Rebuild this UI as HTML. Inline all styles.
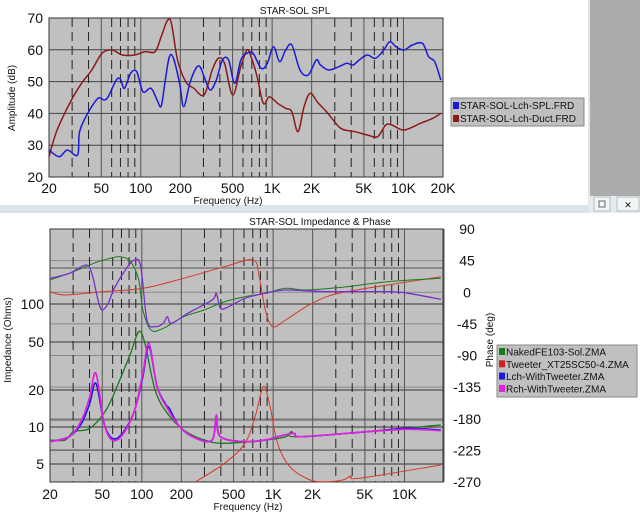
<!DOCTYPE html>
<html><head><meta charset="utf-8"><style>
html,body{margin:0;padding:0;width:640px;height:516px;overflow:hidden;background:#fff}
svg{display:block}
text{font-family:"Liberation Sans",sans-serif;fill:#111}
</style></head><body>
<svg id="s" width="640" height="516" xmlns="http://www.w3.org/2000/svg">
<rect x="0" y="0" width="640" height="516" fill="#fff"/>
<rect x="589" y="0" width="51" height="213" fill="#ababab"/>
<rect x="588" y="0" width="2" height="213" fill="#e4e8ec"/>
<rect x="0" y="205" width="640" height="8" fill="#dde3ea"/>
<rect x="589" y="196" width="51" height="17" fill="#e6ebf0"/>
<rect x="594" y="197" width="16" height="14" fill="#f2f4f6" stroke="#9aa" stroke-width="0.7"/>
<rect x="599" y="201" width="6" height="6" fill="none" stroke="#667" stroke-width="1"/>
<rect x="617" y="197" width="22" height="14" fill="#f2f4f6" stroke="#9aa" stroke-width="0.7"/>
<text x="628" y="208" font-size="9" text-anchor="middle" fill="#889">✕</text>
<g id="g"></g>
</svg>
<script>
var NS="http://www.w3.org/2000/svg",G=document.getElementById('g');
function el(t,a,txt){var e=document.createElementNS(NS,t);for(var k in a)e.setAttribute(k,a[k]);if(txt!=null)e.textContent=txt;G.appendChild(e);return e;}
function fx(x0,x1,f){return x0+(x1-x0)*Math.log10(f/20)/3;}
function vgrid(x0,x1,y0,y1){
 var fs=[20,30,40,50,60,70,80,90,100,200,300,400,500,600,700,800,900,1000,2000,3000,4000,5000,6000,7000,8000,9000,10000,20000];
 fs.forEach(function(f){var x=fx(x0,x1,f);var solid=[20,50,100,200,500,1000,2000,5000,10000,20000].indexOf(f)>=0;
  el('line',{x1:x,x2:x,y1:y0,y2:y1,stroke:solid?'#555':'#222','stroke-width':1,'stroke-dasharray':solid?'':'9,5'});});
}
function poly(pts,sx,sy,oy,col,w){
 var P=pts.map(function(p){return [p[0]*sx,oy+p[1]*sy];});
 var d='M'+P[0][0].toFixed(1)+' '+P[0][1].toFixed(1);
 for(var i=0;i<P.length-1;i++){var p0=P[i-1]||P[i],p1=P[i],p2=P[i+1],p3=P[i+2]||p2;
  var c1=[p1[0]+(p2[0]-p0[0])/6,p1[1]+(p2[1]-p0[1])/6],c2=[p2[0]-(p3[0]-p1[0])/6,p2[1]-(p3[1]-p1[1])/6];
  d+=' C'+c1[0].toFixed(1)+' '+c1[1].toFixed(1)+' '+c2[0].toFixed(1)+' '+c2[1].toFixed(1)+' '+p2[0].toFixed(1)+' '+p2[1].toFixed(1);}
 el('path',{d:d,fill:'none',stroke:col,'stroke-width':w||1.3,'stroke-linejoin':'round'});}
var SX=1/2.45,SY=1/3;
var tx0=49,tx1=443,ty0=18,ty1=177;
el('rect',{x:tx0,y:ty0,width:tx1-tx0,height:ty1-ty0,fill:'#c0c0c0'});
for(var v=20;v<=70;v+=10){var y=ty1-(v-20)/50*(ty1-ty0);el('line',{x1:tx0,x2:tx1,y1:y,y2:y,stroke:'#444','stroke-width':1});
 el('text',{x:43,y:y+5,'font-size':14,'text-anchor':'end'},String(v));}
vgrid(tx0,tx1,ty0,ty1);
el('rect',{x:tx0,y:ty0,width:tx1-tx0,height:ty1-ty0,fill:'none',stroke:'#333'});
[[20,'20'],[50,'50'],[100,'100'],[200,'200'],[500,'500'],[1000,'1K'],[2000,'2K'],[5000,'5K'],[10000,'10K'],[20000,'20K']].forEach(function(a){
 el('text',{x:fx(tx0,tx1,a[0]),y:193,'font-size':14,'text-anchor':'middle'},a[1]);});
el('text',{x:228,y:204,'font-size':10,'text-anchor':'middle'},'Frequency (Hz)');
el('text',{x:295,y:14,'font-size':10,'text-anchor':'middle'},'STAR-SOL SPL');
el('text',{x:0,y:0,'font-size':10,'text-anchor':'middle',transform:'translate(15,98) rotate(-90)'},'Amplitude (dB)');
var blueT=[[120,450],[145,470],[165,450],[190,465],[195,395],[215,340],[240,295],[255,300],[265,290],[285,240],[295,238],[305,265],[320,220],[335,215],[350,275],[370,265],[385,300],[395,318],[405,240],[415,170],[425,175],[440,250],[450,320],[465,250],[480,205],[490,200],[500,230],[515,270],[530,240],[545,180],[560,180],[575,250],[590,180],[605,160],[620,160],[640,205],[655,190],[670,140],[685,185],[700,150],[715,135],[735,210],[755,225],[775,180],[785,195],[805,210],[830,200],[850,190],[865,195],[880,180],[900,165],[920,175],[940,150],[955,125],[970,140],[990,150],[1010,135],[1035,130],[1050,170],[1065,185],[1080,240]];
var redT=[[120,470],[140,390],[175,300],[200,250],[225,210],[250,160],[275,150],[300,165],[330,165],[355,155],[380,155],[395,110],[410,62],[420,70],[435,180],[455,245],[475,265],[500,285],[520,210],[535,175],[550,190],[570,285],[590,200],[605,150],[615,170],[630,230],[645,310],[660,290],[680,310],[700,325],[715,335],[730,395],[745,320],[760,280],[780,310],[800,335],[830,380],[845,390],[870,395],[900,405],[925,410],[945,375],[960,375],[990,390],[1030,370],[1060,355],[1080,340]];
poly(redT,SX,SY,0,'#8b1a1a',1.5);
poly(blueT,SX,SY,0,'#1a1ad8',1.5);
el('rect',{x:451,y:98,width:133,height:28,fill:'#c0c0c0',stroke:'#888'});
el('rect',{x:453,y:102,width:6,height:7,fill:'#1a1ad8'});
el('text',{x:460,y:109,'font-size':10},'STAR-SOL-Lch-SPL.FRD');
el('rect',{x:453,y:115,width:6,height:7,fill:'#8b1a1a'});
el('text',{x:460,y:122,'font-size':10},'STAR-SOL-Lch-Duct.FRD');
var bx0=50,bx1=443,by0=229,by1=482,O=210;
el('rect',{x:bx0,y:by0,width:bx1-bx0,height:by1-by0,fill:'#c0c0c0'});
for(var i=0;i<=8;i++){var y=by0+i*(by1-by0)/8;el('line',{x1:bx0,x2:bx1,y1:y,y2:y,stroke:'#8a8a8a','stroke-width':1});
 el('text',{x:467,y:y+5,'font-size':14,'text-anchor':'middle'},String(90-45*i));}
[[100,304],[50,342],[20,390],[10,427],[5,464]].forEach(function(a){el('line',{x1:bx0,x2:bx1,y1:a[1],y2:a[1],stroke:'#333','stroke-width':1});
 el('text',{x:44,y:a[1]+5,'font-size':14,'text-anchor':'end'},String(a[0]));});
[268,420,450].forEach(function(y){el('line',{x1:bx0,x2:bx1,y1:y,y2:y,stroke:'#555','stroke-width':1});});
vgrid(bx0,bx1+1,by0,by1);
el('rect',{x:bx0,y:by0,width:bx1-bx0,height:by1-by0,fill:'none',stroke:'#333'});
[[20,'20'],[50,'50'],[100,'100'],[200,'200'],[500,'500'],[1000,'1K'],[2000,'2K'],[5000,'5K'],[10000,'10K']].forEach(function(a){
 el('text',{x:fx(bx0,bx1+1,a[0]),y:499,'font-size':14,'text-anchor':'middle'},a[1]);});
el('text',{x:248,y:510,'font-size':10,'text-anchor':'middle'},'Frequency (Hz)');
el('text',{x:320,y:225,'font-size':10,'text-anchor':'middle'},'STAR-SOL Impedance & Phase');
el('text',{x:0,y:0,'font-size':10,'text-anchor':'middle',transform:'translate(11,340) rotate(-90)'},'Impedance (Ohms)');
el('text',{x:0,y:0,'font-size':10,'text-anchor':'middle',transform:'translate(493,340) rotate(-90)'},'Phase (deg)');
var gP=[[122,210],[170,190],[210,170],[240,155],[270,145],[295,140],[320,155],[340,210],[350,300],[370,360],[400,355],[450,320],[500,300],[550,275],[600,260],[650,250],[700,235],[750,240],[850,230],[950,215],[1080,205]];
var pP=[[122,205],[170,190],[210,165],[225,190],[240,270],[250,300],[265,280],[280,235],[310,175],[330,150],[345,170],[360,330],[380,350],[400,340],[410,320],[420,340],[460,310],[520,270],[530,250],[540,295],[560,290],[600,265],[650,250],[700,240],[800,245],[950,245],[1000,250],[1080,268]];
var rP=[[122,245],[160,255],[250,245],[350,235],[450,205],[550,170],[620,150],[635,200],[650,300],[668,350],[700,330],[750,290],[800,260],[850,245],[950,225],[1080,200]];
var gZ=[[122,690],[160,690],[180,665],[220,655],[260,600],[290,520],[320,430],[340,365],[355,400],[380,540],[410,610],[450,660],[500,690],[550,700],[650,690],[700,680],[715,665],[740,680],[1080,645]];
var bZ=[[122,695],[170,680],[200,640],[220,580],[235,520],[255,640],[275,685],[300,670],[330,600],[350,500],[365,410],[385,530],[410,590],[415,595],[440,650],[480,685],[520,690],[530,625],[540,680],[600,695],[650,690],[680,680],[720,670],[740,680],[900,665],[1000,655],[1080,660]];
var mZ=[[122,695],[170,680],[200,630],[220,560],[235,490],[255,640],[275,690],[300,675],[330,600],[350,490],[365,400],[385,530],[410,595],[440,650],[480,685],[520,690],[530,615],[540,680],[600,695],[650,690],[680,680],[720,670],[740,680],[900,665],[1000,658],[1080,662]];
var rZ=[[480,815],[550,760],[600,700],[625,620],[645,530],[660,580],[680,700],[710,770],[760,810],[800,815],[840,810],[860,798],[880,805],[1080,765]];
poly(rP,SX,SY,O,'#d43a2a',1);
poly(gP,SX,SY,O,'#1a7a1a',1);
poly(pP,SX,SY,O,'#d020d0',1.3);
poly(pP,SX,SY,O,'#4040c8',0.8);
poly(rZ,SX,SY,O,'#d43a2a',1);
poly(gZ,SX,SY,O,'#1a7a1a',1.3);
poly(bZ,SX,SY,O,'#1a1ad8',1.5);
poly(mZ,SX,SY,O,'#e020e0',1.7);
el('rect',{x:497,y:345,width:140,height:52,fill:'#c0c0c0',stroke:'#888'});
[['#1a7a1a','NakedFE103-Sol.ZMA'],['#d42020','Tweeter_XT25SC50-4.ZMA'],['#1a1ad8','Lch-WithTweeter.ZMA'],['#e020e0','Rch-WithTweeter.ZMA']].forEach(function(a,i){
 var y=348+i*12.3;el('rect',{x:499,y:y,width:6,height:7,fill:a[0]});el('text',{x:506,y:y+7.5,'font-size':10},a[1]);});
</script>
</body></html>
